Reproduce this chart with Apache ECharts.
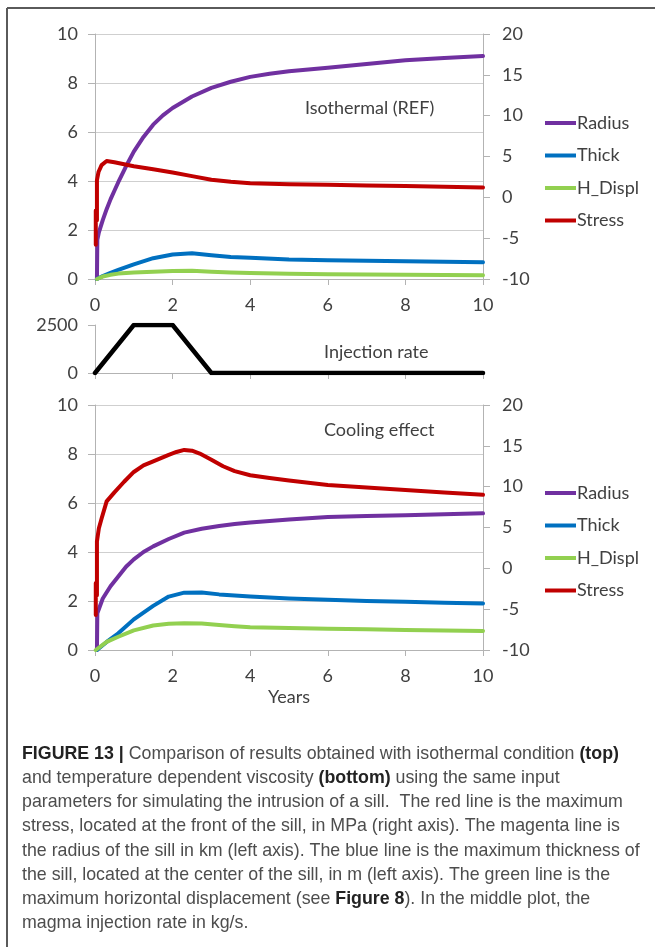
<!DOCTYPE html>
<html><head><meta charset="utf-8">
<script src="https://cdn.jsdelivr.net/npm/echarts@6/dist/echarts.min.js"></script>
<style>html,body{margin:0;padding:0;background:#fff}#c{width:655px;height:947px}</style>
</head><body><div id="c"></div>
<script>
// ---------- DATA ----------
const legendNames = ['Radius', 'Thick', 'H_Displ', 'Stress'];
const yearTicks = [0, 2, 4, 6, 8, 10];

// Top: Isothermal (REF)
const isoRadiusYears = [0.05,0.06,0.1,0.2,0.3,0.4,0.5,0.6,0.8,1.0,1.25,1.5,1.75,2.0,2.5,3.0,3.5,4.0,4.5,5.0,6.0,7.0,8.0,9.0,10];
const isoRadius      = [0,1.6,1.9,2.4,2.85,3.25,3.6,3.95,4.6,5.2,5.8,6.3,6.68,6.98,7.45,7.8,8.05,8.25,8.38,8.48,8.62,8.78,8.93,9.02,9.1];
const isoThickYears  = [0.05,0.2,0.4,0.6,1.0,1.5,2.0,2.5,3.0,3.5,4.0,5.0,6.0,7.0,8.0,9.0,10];
const isoThick       = [0,0.12,0.25,0.37,0.6,0.85,1.0,1.05,0.97,0.9,0.87,0.8,0.77,0.74,0.72,0.7,0.68];
const isoHDispl      = [0,0.1,0.17,0.22,0.27,0.3,0.33,0.34,0.3,0.27,0.24,0.21,0.19,0.18,0.17,0.16,0.15];
const isoStressYears = [0.02,0.02,0.05,0.05,0.05,0.09,0.17,0.3,0.5,1.0,1.5,2.0,2.5,3.0,3.5,4.0,5.0,6.0,7.0,8.0,9.0,10];
const isoStress      = [-5.8,-1.6,-1.6,-2.8,2.1,3.1,3.95,4.45,4.3,3.8,3.45,3.05,2.6,2.15,1.9,1.72,1.6,1.55,1.45,1.38,1.3,1.2];

// Middle: Injection rate (kg/s)
const injYears = [0, 1, 2, 3, 10];
const injRate  = [0, 2500, 2500, 0, 0];

// Bottom: Cooling effect
const coolRadiusYears = [0.05,0.06,0.2,0.4,0.6,0.8,1.0,1.25,1.5,1.9,2.3,2.75,3.2,3.6,4.0,5.0,6.0,7.0,8.0,9.0,10];
const coolRadius      = [0,1.5,2.1,2.6,3.0,3.4,3.7,4.0,4.23,4.53,4.79,4.95,5.06,5.14,5.2,5.33,5.43,5.47,5.5,5.54,5.58];
const coolThickYears  = [0.05,0.3,0.6,1.0,1.5,1.9,2.3,2.75,3.2,3.6,4.0,5.0,6.0,7.0,8.0,9.0,10];
const coolThick       = [0,0.33,0.68,1.25,1.8,2.18,2.34,2.35,2.27,2.22,2.18,2.1,2.05,2.0,1.97,1.93,1.9];
const coolHDisplYears = [0.02,0.3,0.6,1.0,1.5,1.9,2.3,2.75,3.2,3.6,4.0,5.0,6.0,7.0,8.0,9.0,10];
const coolHDispl      = [0,0.33,0.54,0.8,1.0,1.07,1.09,1.08,1.02,0.97,0.93,0.9,0.87,0.85,0.82,0.8,0.78];
const coolStressYears = [0.02,0.02,0.05,0.05,0.05,0.1,0.17,0.3,0.5,0.75,1.0,1.25,1.5,1.9,2.1,2.3,2.5,2.7,3.0,3.3,3.6,4.0,4.5,5.0,6.0,7.0,8.0,9.0,10];
const coolStress      = [-5.7,-1.8,-1.8,-3.3,3.3,4.9,6.1,8.2,9.3,10.6,11.8,12.6,13.1,13.9,14.25,14.5,14.4,14.05,13.3,12.5,11.9,11.4,11.05,10.75,10.2,9.9,9.6,9.3,9.0];

const captionLines = [
  '{b|FIGURE 13 |} Comparison of results obtained with isothermal condition {b|(top)}',
  'and temperature dependent viscosity {b|(bottom)} using the same input',
  'parameters for simulating the intrusion of a sill.  The red line is the maximum',
  'stress, located at the front of the sill, in MPa (right axis). The magenta line is',
  'the radius of the sill in km (left axis). The blue line is the maximum thickness of',
  'the sill, located at the center of the sill, in m (left axis). The green line is the',
  'maximum horizontal displacement (see {b|Figure 8}). In the middle plot, the',
  'magma injection rate in kg/s.'
];

// ---------- STYLE ----------
const colors = { Radius: '#7030A0', Thick: '#0070C0', H_Displ: '#92D050', Stress: '#C00000' };
const FONT = 'Lato';
const LBL = { fontFamily: FONT, fontSize: 18, color: '#404040' };
const AXIS_COLOR = '#B3B3B3';
const GRID_COLOR = '#CFCFCF';
const CAP_SIZE = 17.8;

function pairs(xs, ys) { return xs.map((x, i) => [x, ys[i]]); }
function line(name, xs, ys, xi, yi, color, w) {
  return {
    name, type: 'line', xAxisIndex: xi, yAxisIndex: yi, data: pairs(xs, ys),
    symbol: 'none', smooth: false, color,
    lineStyle: { width: w || 4, color, cap: 'round', join: 'round' },
    itemStyle: { color }, animation: false, z: 3
  };
}
function xAx(gi, showLabel, name) {
  return {
    type: 'value', gridIndex: gi, min: 0, max: 10, interval: 2,
    axisLine: { show: true, onZero: false, lineStyle: { color: AXIS_COLOR, width: 1 } },
    axisTick: { show: true, length: 6, lineStyle: { color: AXIS_COLOR } },
    axisLabel: Object.assign({ show: showLabel, margin: 17 }, LBL),
    splitLine: { show: false },
    name: name || '', nameLocation: 'middle', nameGap: 38,
    nameTextStyle: { fontFamily: FONT, fontSize: 18, color: '#404040' }
  };
}
function yLeft(gi, min, max, interval, grid) {
  return {
    type: 'value', gridIndex: gi, position: 'left', min, max, interval,
    axisLine: { show: true, lineStyle: { color: AXIS_COLOR, width: 1 } },
    axisTick: { show: true, length: 7, lineStyle: { color: AXIS_COLOR } },
    axisLabel: Object.assign({ margin: 17, formatter: v => String(v) }, LBL),
    splitLine: { show: grid, lineStyle: { color: GRID_COLOR, width: 1.2 } }
  };
}
function yRight(gi) {
  return {
    type: 'value', gridIndex: gi, position: 'right', min: -10, max: 20, interval: 5,
    axisLine: { show: true, lineStyle: { color: AXIS_COLOR, width: 1 } },
    axisTick: { show: true, length: 7, lineStyle: { color: AXIS_COLOR } },
    axisLabel: Object.assign({ margin: 19 }, LBL),
    splitLine: { show: false }
  };
}
function legendAt(top) {
  return {
    data: legendNames, orient: 'vertical', left: 540, top,
    icon: 'rect', itemWidth: 31, itemHeight: 4, itemGap: 12.5,
    textStyle: { fontFamily: FONT, fontSize: 18, color: '#404040', lineHeight: 20, padding: [0, 0, 0, -4] },
    selectedMode: false
  };
}
function label(text, x, y) {
  return { type: 'text', x, y, style: { text, font: '18px ' + FONT, fill: '#404040', verticalAlign: 'middle' }, z: 10 };
}

const graphics = [
  { type: 'line', shape: { x1: 7, y1: 8, x2: 655, y2: 8 }, style: { stroke: '#5a5a5a', lineWidth: 2 } },
  { type: 'line', shape: { x1: 7, y1: 8, x2: 7, y2: 947 }, style: { stroke: '#5a5a5a', lineWidth: 2 } },
  label('Isothermal (REF)', 305, 108),
  label('Injection rate', 324, 352),
  label('Cooling effect', 324, 430)
];
captionLines.forEach((t, i) => {
  graphics.push({
    type: 'text', x: 22, y: 754 + i * 24.2, z: 10,
    style: {
      text: t, font: CAP_SIZE + 'px "Liberation Sans"', fill: '#4d4d4d', verticalAlign: 'middle',
      rich: { b: { fontWeight: 'bold', fontFamily: 'Liberation Sans', fontSize: CAP_SIZE, fill: '#222', color: '#222' } }
    }
  });
});

const option = {
  backgroundColor: '#fff',
  animation: false,
  grid: [
    { left: 95, top: 34, width: 388, height: 245 },
    { left: 95, top: 325, width: 388, height: 48 },
    { left: 95, top: 405, width: 388, height: 245 }
  ],
  xAxis: [ xAx(0, true), xAx(1, false), xAx(2, true, 'Years') ],
  yAxis: [
    yLeft(0, 0, 10, 2, true), yRight(0),
    yLeft(1, 0, 2500, 2500, false),
    yLeft(2, 0, 10, 2, true), yRight(2)
  ],
  legend: [ legendAt(108), legendAt(478) ],
  series: [
    line('Radius', isoRadiusYears, isoRadius, 0, 0, colors.Radius),
    line('Thick', isoThickYears, isoThick, 0, 0, colors.Thick),
    line('H_Displ', isoThickYears, isoHDispl, 0, 0, colors.H_Displ),
    line('Stress', isoStressYears, isoStress, 0, 1, colors.Stress),
    line('Injection', injYears, injRate, 1, 2, '#000', 4.5),
    line('Radius', coolRadiusYears, coolRadius, 2, 3, colors.Radius),
    line('Thick', coolThickYears, coolThick, 2, 3, colors.Thick),
    line('H_Displ', coolHDisplYears, coolHDispl, 2, 3, colors.H_Displ),
    line('Stress', coolStressYears, coolStress, 2, 4, colors.Stress)
  ],
  graphic: graphics
};
const chart = echarts.init(document.getElementById('c'), null, { renderer: 'canvas' });
chart.setOption(option);
</script></body></html>
